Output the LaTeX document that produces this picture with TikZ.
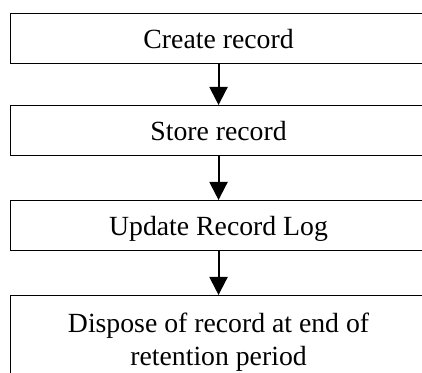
\documentclass[tikz,border=0pt]{standalone}
\usepackage{fontspec}
\setmainfont{Liberation Serif}
\usetikzlibrary{arrows.meta}
\begin{document}
\begin{tikzpicture}[x=0.75pt,y=-0.75pt,
  box/.style={draw, line width=0.8pt, anchor=north west, minimum width=312pt,
    minimum height=37.5pt, inner sep=0pt, align=center,
    font=\fontsize{20.8pt}{24.75pt}\selectfont, text height=15.5pt, text depth=0pt},
  arr/.style={line width=1.5pt, -{Triangle[length=13.5pt,width=13.5pt]}, shorten >=0pt}]
\useasboundingbox (0,0) rectangle (422,373);
\clip (0,0) rectangle (422,373);
\node[box] (b1) at (10,13) {Create record};
\node[box] (b2) at (10,105) {Store record};
\node[box] (b3) at (10,200) {Update Record Log};
\node[box, minimum height=75pt, text height=52.5pt, text depth=22.5pt] (b4) at (10,295) {Dispose of record at end of\\retention period};
\draw[arr] (b1.south) -- (b2.north);
\draw[arr] (b2.south) -- (b3.north);
\draw[arr] (b3.south) -- (b4.north);
\end{tikzpicture}
\end{document}
